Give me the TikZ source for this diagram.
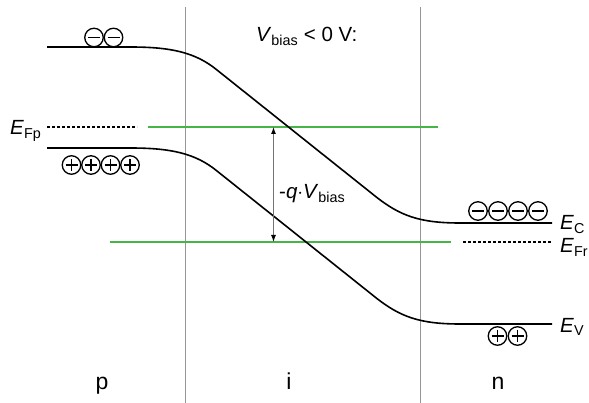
\documentclass[tikz,border=0pt]{standalone}
\usepackage{fontspec}
\setmainfont{Liberation Sans}
\usetikzlibrary{arrows.meta}
\usetikzlibrary{calc}
\definecolor{fermigreen}{RGB}{70,180,70}
\definecolor{sepgray}{RGB}{150,150,150}

\begin{document}
\begin{tikzpicture}[x=1pt,y=-1pt,
  band/.style={line width=1.6pt},
  fermi/.style={line width=1.5pt,dash pattern=on 3pt off 2pt},
  quasi/.style={line width=1.15pt,draw=fermigreen},
  sep/.style={line width=0.7pt,sepgray},
  lbl/.style={font=\fontsize{20.5}{23}\selectfont,inner sep=0pt},
  region/.style={font=\fontsize{23}{25}\selectfont,inner sep=0pt},
  charge/.style={circle,draw,line width=1.3pt,minimum size=18.5pt,inner sep=0pt},
  elec/.style={charge,path picture={
      \draw[line width=1.3pt] ($(path picture bounding box.center)+(-6,0)$) -- ($(path picture bounding box.center)+(6,0)$);}},
  hole/.style={charge,path picture={
      \draw[line width=1.3pt] ($(path picture bounding box.center)+(-6,0)$) -- ($(path picture bounding box.center)+(6,0)$)
        ($(path picture bounding box.center)+(0,-6)$) -- ($(path picture bounding box.center)+(0,6)$);}}]
  \useasboundingbox (0,0) rectangle (589,403);

  % region borders
  \coordinate (pi top) at (185.5,7);   \coordinate (pi bot) at (185.5,403);
  \coordinate (in top) at (420.5,7);   \coordinate (in bot) at (420.5,403);
  \draw[sep] (pi top) -- (pi bot);
  \draw[sep] (in top) -- (in bot);

  % quasi fermi levels
  \coordinate (fp a) at (148,127);   \coordinate (fp b) at (438,127);
  \coordinate (fr a) at (110,242);   \coordinate (fr b) at (451,242);
  \draw[quasi] (fp a) -- (fp b);
  \draw[quasi] (fr a) -- (fr b);

  % fermi levels in p and n
  \coordinate (efp a) at (47,127);   \coordinate (efp b) at (137,127);
  \coordinate (efr a) at (463,242);  \coordinate (efr b) at (552,242);
  \draw[fermi] (efp a) -- (efp b);
  \draw[fermi] (efr a) -- (efr b);

  % bands
  \foreach \dy in {0,101}
    \draw[band,shift={(0,\dy)}] (47,47) -- (130,47) .. controls (170,47) and (195,52) .. (217,70)
      -- (375,196) .. controls (400,216) and (420,223) .. (460,223) -- (552,223);

  % charges
  \foreach \cx [count=\k] in {94,113.5}
    \node[elec] (ep\k) at (\cx,37.5) {};
  \foreach \cx [count=\k] in {71.5,91,110.5,130}
    \node[hole] (hp\k) at (\cx,165) {};
  \foreach \cx [count=\k] in {478,498,518,538}
    \node[elec] (en\k) at (\cx,211) {};
  \foreach \cx [count=\k] in {497.5,517.5}
    \node[hole] (hn\k) at (\cx,336) {};

  % bias arrow
  \coordinate (arr top) at (273.5,127);
  \coordinate (arr bot) at (273.5,242);
  \draw[{Latex[black,length=7pt,width=5pt]}-{Latex[black,length=7pt,width=5pt]},line width=1pt,gray!90!black] (arr top) -- (arr bot);
  \node[lbl,anchor=base west] (qv) at (279,199) {-\textit{q}$\cdot$\textit{V}\textsubscript{bias}};

  % labels
  \node[lbl,anchor=base west] (title) at (256,42) {\textit{V}\textsubscript{bias} < 0 V:};
  \node[lbl,anchor=base west] (efp) at (10,135) {\textit{E}\textsubscript{Fp}};
  \node[lbl,anchor=base west] (ec) at (560,230) {\textit{E}\textsubscript{C}};
  \node[lbl,anchor=base west] (efr) at (560,253) {\textit{E}\textsubscript{Fr}};
  \node[lbl,anchor=base west] (ev) at (560,332) {\textit{E}\textsubscript{V}};
  \node[region,anchor=base] (p) at (102,389) {p};
  \node[region,anchor=base] (i) at (289,389) {i};
  \node[region,anchor=base] (n) at (498,389) {n};
\end{tikzpicture}
\end{document}
